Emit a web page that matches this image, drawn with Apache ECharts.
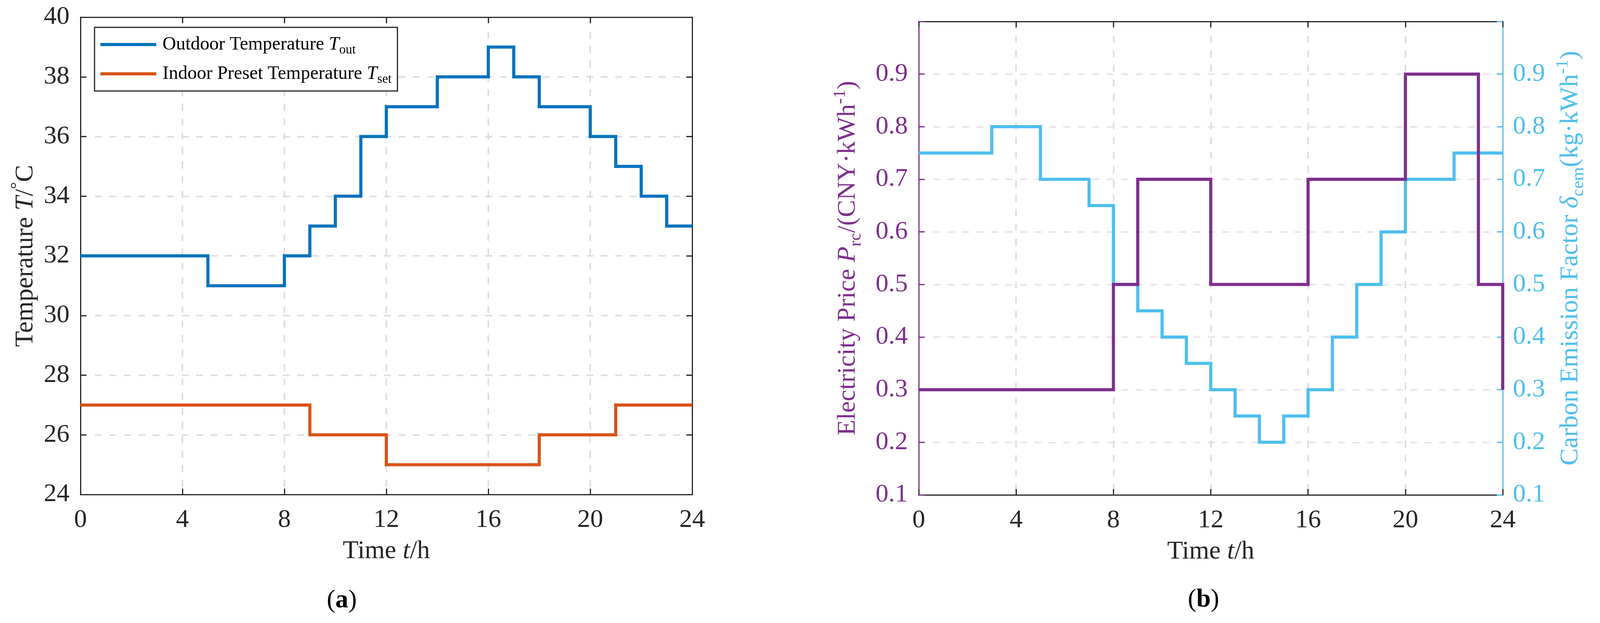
<!DOCTYPE html>
<html>
<head>
<meta charset="utf-8">
<script src="https://cdn.jsdelivr.net/npm/echarts@6/dist/echarts.min.js"></script>
<style>
html,body{margin:0;padding:0;background:#fff;}
#c{width:4109px;height:1595px;}
</style>
</head>
<body>
<div id="c"></div>
<script>
// ---------- data ----------
const hours = [0,1,2,3,4,5,6,7,8,9,10,11,12,13,14,15,16,17,18,19,20,21,22,23,24];
const outdoorTemp = [32,32,32,32,32,31,31,31,32,33,34,36,37,37,38,38,39,38,37,37,36,35,34,33,33];
const indoorSetTemp = [27,27,27,27,27,27,27,27,27,26,26,26,25,25,25,25,25,25,26,26,26,27,27,27,27];
const electricityPrice = [0.3,0.3,0.3,0.3,0.3,0.3,0.3,0.3,0.5,0.7,0.7,0.7,0.5,0.5,0.5,0.5,0.7,0.7,0.7,0.7,0.9,0.9,0.9,0.5,0.3];
const carbonFactor = [0.75,0.75,0.75,0.8,0.8,0.7,0.7,0.65,0.5,0.45,0.4,0.35,0.3,0.25,0.2,0.25,0.3,0.4,0.5,0.6,0.7,0.7,0.75,0.75,0.75];
const xTicks = [0,4,8,12,16,20,24];
const tempTicks = [24,26,28,30,32,34,36,38,40];
const ratioTicks = [0.1,0.2,0.3,0.4,0.5,0.6,0.7,0.8,0.9];
const seriesNames = ['Outdoor Temperature Tout', 'Indoor Preset Temperature Tset', 'Electricity Price', 'Carbon Emission Factor'];

// ---------- styles ----------
const FONT = "'Liberation Serif', 'Times New Roman', serif";
const DARK = '#262626';
const PURPLE = '#7E2F8E';
const CYAN = '#4DBEEE';
const BLUE = '#0072BD';
const ORANGE = '#D95319';
const GRID_GRAY = '#DEDEDE';
const GRID_PURPLE = '#ECE0EE';
const FS = 66;

function rich(size, color) {
  const s = Math.round(size * 0.68);
  const sh = Math.round(size * 0.6);
  const base = {fontFamily: FONT, fontSize: size, color: color, lineHeight: size, verticalAlign: 'middle'};
  return {
    n: Object.assign({}, base),
    i: Object.assign({}, base, {fontStyle: 'italic'}),
    b: Object.assign({}, base, {fontWeight: 'bold'}),
    sub: {fontFamily: FONT, fontSize: s, color: color, lineHeight: s, padding: [sh, 0, 0, 0], verticalAlign: 'middle'},
    sup: {fontFamily: FONT, fontSize: s, color: color, lineHeight: s, padding: [0, 0, sh, 0], verticalAlign: 'middle'}
  };
}

const legendLabels = {
  'Outdoor Temperature Tout': '{n|Outdoor Temperature }{i|T}{sub|out}',
  'Indoor Preset Temperature Tset': '{n|Indoor Preset Temperature }{i|T}{sub|set}'
};

function pairs(vals) { return hours.map((h, k) => [h, vals[k]]); }

function xAxes(gridIndex, gridColor) {
  return [{
    type: 'value', gridIndex: gridIndex, min: xTicks[0], max: xTicks[xTicks.length - 1], interval: xTicks[1] - xTicks[0],
    position: 'bottom',
    axisLine: {show: true, onZero: false, lineStyle: {color: DARK, width: 3}},
    axisTick: {show: true, inside: true, length: 15, lineStyle: {color: DARK, width: 3}},
    axisLabel: {fontFamily: FONT, fontSize: FS, color: DARK, margin: 33},
    splitLine: {show: true, showMinLine: false, showMaxLine: false, lineStyle: {color: gridColor, width: 4, type: [18, 19]}},
    name: '{n|Time }{i|t}{n|/h}', nameLocation: 'middle', nameGap: 113,
    nameTextStyle: {rich: rich(FS, DARK)}
  }, {
    type: 'value', gridIndex: gridIndex, min: xTicks[0], max: xTicks[xTicks.length - 1], interval: xTicks[1] - xTicks[0],
    position: 'top',
    axisLine: {show: true, onZero: false, lineStyle: {color: DARK, width: 3}},
    axisTick: {show: true, inside: true, length: 15, lineStyle: {color: DARK, width: 3}},
    axisLabel: {show: false},
    splitLine: {show: false}
  }];
}

function yAxis(gridIndex, ticks, position, color, showLabel, gridColor, name, nameGap, fmt) {
  return {
    type: 'value', gridIndex: gridIndex, position: position,
    min: ticks[0], max: position === 'left' && gridIndex === 1 ? 1.0 : (gridIndex === 1 ? 1.0 : ticks[ticks.length - 1]),
    interval: +(ticks[1] - ticks[0]).toFixed(6),
    axisLine: {show: true, onZero: false, lineStyle: {color: color, width: 3}},
    axisTick: {show: true, inside: true, length: 15, lineStyle: {color: color, width: 3}},
    axisLabel: {show: showLabel, fontFamily: FONT, fontSize: FS, color: color, margin: position === 'left' ? 28 : 26, formatter: fmt},
    splitLine: gridColor ? {show: true, showMinLine: false, showMaxLine: false, lineStyle: {color: gridColor, width: 4, type: [18, 19]}} : {show: false},
    name: name || '', nameLocation: 'middle', nameGap: nameGap || 0,
    nameTextStyle: {rich: rich(FS, color)}
  };
}

const ratioFmt = v => (v > 0.95 ? '' : v.toFixed(1));

const option = {
  animation: false,
  backgroundColor: '#fff',
  grid: [
    {left: 206, top: 44, width: 1566, height: 1222, containLabel: false},
    {left: 2352, top: 55, width: 1495, height: 1212, containLabel: false}
  ],
  xAxis: [].concat(xAxes(0, GRID_GRAY), xAxes(1, GRID_GRAY)),
  yAxis: [
    yAxis(0, tempTicks, 'left', DARK, true, GRID_GRAY, '{n|Temperature }{i|T}{n|/}{sup|°}{n|C}', 102),
    yAxis(0, tempTicks, 'right', DARK, false, null),
    yAxis(1, ratioTicks, 'left', PURPLE, true, GRID_PURPLE, '{n|Electricity Price }{i|P}{sub|rc}{n|/(CNY·kWh}{sup|-1}{n|)}', 148, ratioFmt),
    yAxis(1, ratioTicks, 'right', CYAN, true, null, '{n|Carbon Emission Factor }{i|δ}{sub|cem}{n|(kg·kWh}{sup|-1}{n|)}', 141, ratioFmt)
  ],
  legend: {
    data: [seriesNames[0], seriesNames[1]],
    orient: 'vertical', left: 242, top: 70,
    padding: [13, 15, 13, 15], itemGap: 13,
    itemWidth: 143, itemHeight: 8, icon: 'rect',
    borderColor: DARK, borderWidth: 3, backgroundColor: '#fff',
    selectedMode: false, z: 10,
    formatter: name => legendLabels[name],
    textStyle: {rich: rich(48, '#000'), padding: [0, 0, 0, 11]}
  },
  graphic: [
    {type: 'text', x: 875, y: 1538, z: 10, style: {text: '{n|(}{b|a}{n|)}', rich: rich(FS, '#000'), align: 'center', verticalAlign: 'middle'}},
    {type: 'text', x: 3081, y: 1536, z: 10, style: {text: '{n|(}{b|b}{n|)}', rich: rich(FS, '#000'), align: 'center', verticalAlign: 'middle'}}
  ],
  series: [
    {type: 'line', name: seriesNames[0], xAxisIndex: 0, yAxisIndex: 0, data: pairs(outdoorTemp), step: 'end',
     symbol: 'none', showSymbol: false, clip: false, color: BLUE, lineStyle: {color: BLUE, width: 8, join: 'miter'}},
    {type: 'line', name: seriesNames[1], xAxisIndex: 0, yAxisIndex: 0, data: pairs(indoorSetTemp), step: 'end',
     symbol: 'none', showSymbol: false, clip: false, color: ORANGE, lineStyle: {color: ORANGE, width: 8, join: 'miter'}},
    {type: 'line', name: seriesNames[3], xAxisIndex: 2, yAxisIndex: 3, data: pairs(carbonFactor), step: 'end',
     symbol: 'none', showSymbol: false, clip: false, color: CYAN, lineStyle: {color: CYAN, width: 8, join: 'miter'}},
    {type: 'line', name: seriesNames[2], xAxisIndex: 2, yAxisIndex: 2, data: pairs(electricityPrice), step: 'end',
     symbol: 'none', showSymbol: false, clip: false, color: PURPLE, lineStyle: {color: PURPLE, width: 8, join: 'miter'}}
  ]
};

const chart = echarts.init(document.getElementById('c'), null, {renderer: 'canvas'});
chart.setOption(option);
</script>
</body>
</html>
